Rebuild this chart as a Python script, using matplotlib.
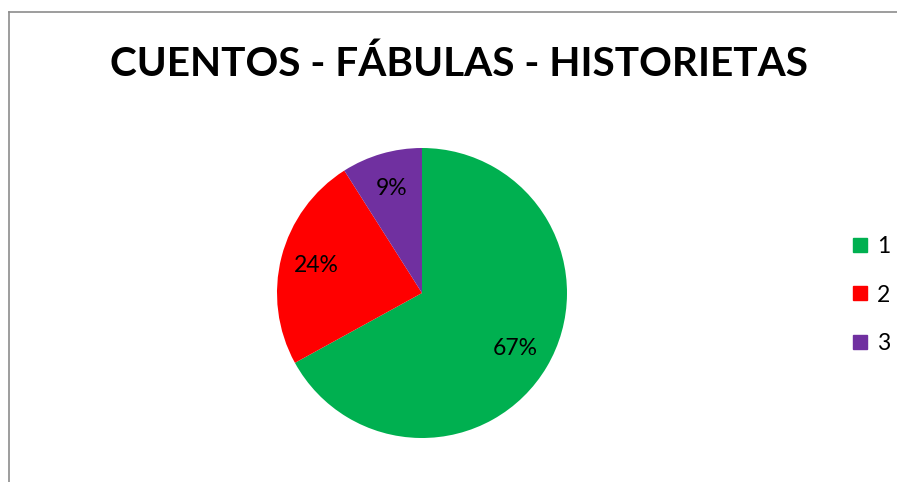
import matplotlib.pyplot as plt
from matplotlib.lines import Line2D

# Datos
categorias = ['1', '2', '3']
porcentajes = [67, 24, 9]
colores = ['#00B050', '#FF0000', '#7030A0']
titulo = 'CUENTOS - FÁBULAS - HISTORIETAS'

W, H = 897, 482
fig = plt.figure(figsize=(W / 100, H / 100), dpi=100)
fig.patch.set_facecolor('white')

# Pie axes (centre ~ (422, 293) px, radius ~145 px)
cx, cy, r = 422, 293, 145
ax = fig.add_axes([(cx - r) / W, (H - cy - r) / H, 2 * r / W, 2 * r / H])
wedges, texts = ax.pie(porcentajes, colors=colores, startangle=90, counterclock=False,
                       labels=[f'{p}%' for p in porcentajes], labeldistance=0.75,
                       wedgeprops=dict(linewidth=0))
for t in texts:
    t.set_fontsize(16.5)
    t.set_fontfamily('Lato')
    t.set_horizontalalignment('center')
    t.set_verticalalignment('center')
ax.set_xlim(-1, 1)
ax.set_ylim(-1, 1)
ax.axis('off')

fig.text(459 / W, 1 - 64 / H, titulo, ha='center', va='center',
         fontsize=29.2, fontweight='bold', fontfamily='Lato')

# Legend
handles = [Line2D([], [], marker='s', linestyle='none', markersize=10.5,
                  markerfacecolor=c, markeredgecolor=c) for c in colores]
fig.legend(handles, categorias, loc='center left', bbox_to_anchor=(830 / W, 1 - 295 / H),
           frameon=False, handlelength=0.8, handletextpad=0.35, labelspacing=1.2,
           prop={'family': 'Lato', 'size': 16.5})

# Chart border (left and top only visible)
fig.add_artist(Line2D([8.5 / W, 8.5 / W], [0, 1 - 12 / H], color='#8c8c8c', linewidth=1.2))
fig.add_artist(Line2D([8.5 / W, 1], [1 - 12 / H, 1 - 12 / H], color='#8c8c8c', linewidth=1.2))

fig.savefig('out.png', dpi=100)
